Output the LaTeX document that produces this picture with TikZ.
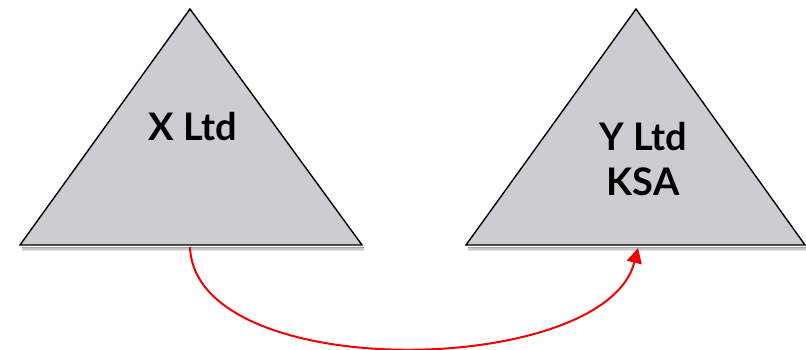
\documentclass[tikz,border=0pt]{standalone}
\usepackage{fontspec}
\setmainfont{Lato}
\usetikzlibrary{arrows.meta}
\definecolor{trifill}{RGB}{205,204,210}
\definecolor{arrowred}{RGB}{240,0,0}
\begin{document}
\begin{tikzpicture}[x=1pt,y=-1pt,
  tri/.style={draw=black,line width=1.4pt,fill=trifill,line join=miter},
  label/.style={font=\bfseries\fontsize{38}{45}\selectfont,align=center,inner sep=0pt},
  link/.style={draw=arrowred,line width=2pt,-{Triangle[length=15pt,width=15pt]}}]
\useasboundingbox (0,0) rectangle (806,350);
% shadows under the bases
\foreach \d/\o in {1.5/0.35,3/0.22,4.5/0.12}{
  \draw[line width=1.5pt,draw=black,opacity=\o] (22,246+\d) -- (364,246+\d);
  \draw[line width=1.5pt,draw=black,opacity=\o] (468,246+\d) -- (806,246+\d);
}
\draw[tri] (190,9) -- (362,245) -- (20,245) -- cycle;
\draw[tri] (636,9) -- (805,245) -- (466,245) -- cycle;
\node[label] (x) at (193,127) {X Ltd};
\node[label] (y) at (643,159) {Y Ltd\\KSA};
\coordinate (xb) at (190,247);
\coordinate (yb) at (638,248);
\draw[link] (xb) .. controls (195,385) and (605,378) .. (yb);
\end{tikzpicture}
\end{document}
